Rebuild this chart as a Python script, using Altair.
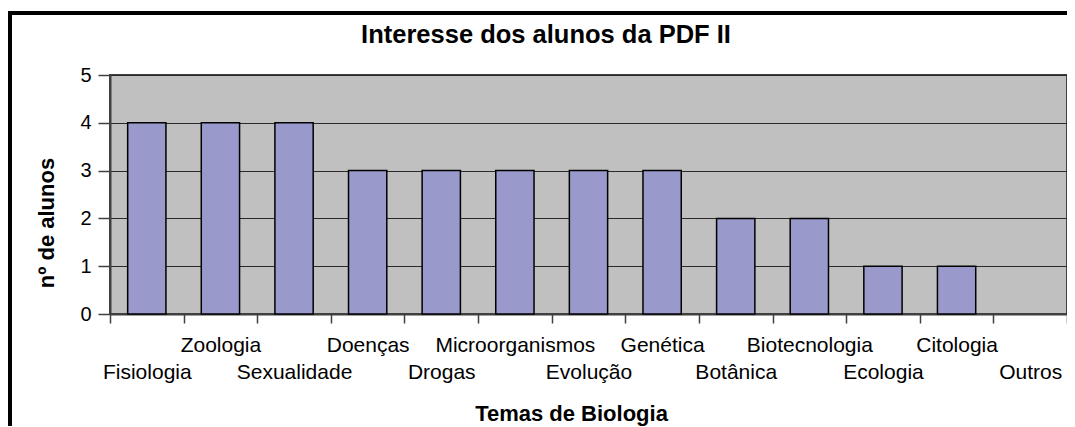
import json
import altair as alt
import pandas as pd

categories = ["Fisiologia", "Zoologia", "Sexualidade", "Doenças", "Drogas",
              "Microorganismos", "Evolução", "Genética", "Botânica",
              "Biotecnologia", "Ecologia", "Citologia", "Outros"]
values = [4, 4, 4, 3, 3, 3, 3, 3, 2, 2, 1, 1, 0]
y_ticks = [0, 1, 2, 3, 4, 5]
title_text = "Interesse dos alunos da PDF II"

df = pd.DataFrame({"tema": categories, "alunos": values})

FONT = "Liberation Sans"
W, H = 957, 239
cats_js = json.dumps(categories, ensure_ascii=False)
label_expr = f"indexof({cats_js}, datum.value) % 2 == 0 ? ['', datum.label] : datum.label"

bars = alt.Chart(df).mark_bar(
    width={"band": 0.52}, color="#9999CC", strokeWidth=1.5
).encode(
    x=alt.X("tema:N", sort=categories,
            scale=alt.Scale(paddingInner=0, paddingOuter=0),
            axis=alt.Axis(
                title="Temas de Biologia", titleFont=FONT, titleFontSize=22,
                titleFontWeight="bold", titleColor="black",
                titleX=461, titleY=106, titleBaseline="alphabetic", titleAlign="center",
                labelExpr=label_expr, labelAngle=0, labelFont=FONT, labelFontSize=21,
                labelColor="black", labelBaseline="top", labelLineHeight=27,
                labelPadding=11, labelOverlap=False, labelAlign="center",
                tickBand="extent", tickSize=9, tickColor="#404040", tickWidth=1.5,
                domainColor="#404040", domainWidth=2, grid=False)),
    y=alt.Y("alunos:Q", scale=alt.Scale(domain=[0, 5], nice=False),
            axis=alt.Axis(
                title="nº de alunos", titleFont=FONT, titleFontSize=22,
                titleFontWeight="bold", titleColor="black", titleAngle=-90,
                titleX=-57, titleY=147.5, titleBaseline="alphabetic", titleAlign="center",
                values=y_ticks, format="d", labelFont=FONT, labelFontSize=20,
                labelColor="black", labelPadding=7, tickSize=12,
                tickColor="#404040", tickWidth=1.5, domainColor="#404040",
                domainWidth=2, grid=True, gridColor="#2a2a2a", gridWidth=1)),
    stroke=alt.condition(alt.datum.alunos > 0, alt.value("black"), alt.value("transparent")),
)

one = pd.DataFrame({"k": [0]})
top_border = alt.Chart(one).mark_rule(color="black", strokeWidth=4).encode(
    x=alt.value(-102), x2=alt.value(1000), y=alt.value(-62))
left_border = alt.Chart(one).mark_rule(color="black", strokeWidth=4).encode(
    x=alt.value(-100), y=alt.value(-64), y2=alt.value(420))
title = alt.Chart(one).mark_text(
    font=FONT, fontSize=25.5, fontWeight="bold", color="black",
    align="center", baseline="alphabetic"
).encode(x=alt.value(436), y=alt.value(-32), text=alt.value(title_text))

chart = alt.layer(bars, top_border, left_border, title).properties(
    width=W, height=H,
    autosize=alt.AutoSizeParams(type="none"),
    padding={"left": 102, "top": 67, "right": 0, "bottom": 112},
    background="white",
).configure_view(
    fill="#C0C0C0", stroke="#404040", strokeWidth=2
)

chart.save("out.html", embed_options={"renderer": "svg", "actions": False})
